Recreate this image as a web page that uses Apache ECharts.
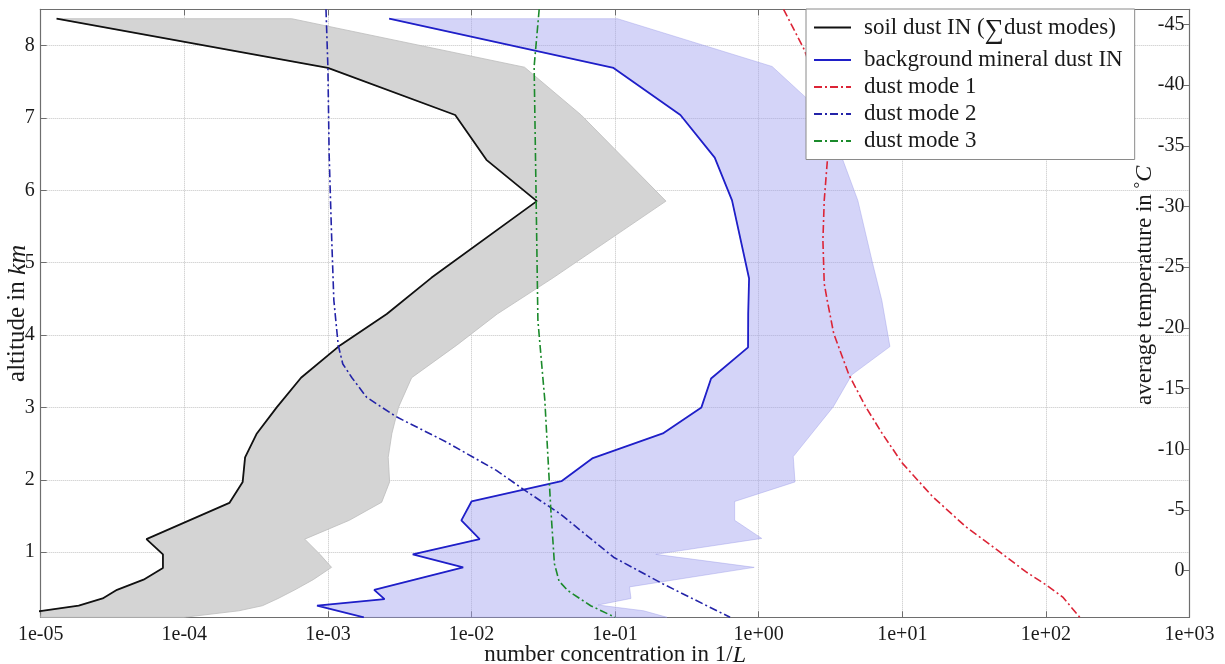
<!DOCTYPE html>
<html>
<head>
<meta charset="utf-8">
<script src="https://cdn.jsdelivr.net/npm/echarts@6/dist/echarts.min.js"></script>
<style>
  html, body { margin: 0; padding: 0; background: #fff; }
  #chart { width: 1225px; height: 664px; }
</style>
</head>
<body>
<div id="chart"></div>
<script>
// Vertical profiles of ice nuclei number concentration (1/L) versus altitude (km)

// soil dust IN (sum of dust modes)
const soilAlt = [8.37, 7.69, 7.04, 6.42, 5.85, 4.79, 4.29, 3.86, 3.41, 3.00, 2.64, 2.31, 1.97, 1.68, 1.18, 0.97, 0.78, 0.62, 0.48, 0.36, 0.26, 0.19, 0.10];
const soilIN  = [1.29e-5, 1.0e-3, 7.7e-3, 1.27e-2, 2.85e-2, 5.25e-3, 2.57e-3, 1.22e-3, 6.5e-4, 4.4e-4, 3.2e-4, 2.65e-4, 2.55e-4, 2.06e-4, 5.45e-5, 7.1e-5, 7.1e-5, 5.2e-5, 3.4e-5, 2.7e-5, 1.84e-5, 1.02e-5, 5.0e-6];

// upper edge of the soil dust range (grey band)
const soilMaxAlt = [8.37, 7.70, 7.04, 5.85, 4.79, 4.29, 3.86, 3.41, 3.00, 2.64, 2.31, 1.97, 1.69, 1.44, 1.18, 0.97, 0.79, 0.62, 0.48, 0.36, 0.26, 0.19, 0.10];
const soilMax    = [5.6e-4, 2.34e-2, 5.8e-2, 0.226, 3.7e-2, 1.51e-2, 7.9e-3, 3.83e-3, 3.1e-3, 2.79e-3, 2.63e-3, 2.69e-3, 2.37e-3, 1.41e-3, 6.9e-4, 8.8e-4, 1.06e-3, 7.9e-4, 5.9e-4, 4.5e-4, 3.5e-4, 2.4e-4, 1.0e-4];

// background mineral dust IN
const bgAlt = [8.37, 7.69, 7.04, 6.45, 5.86, 4.78, 4.29, 3.83, 3.40, 3.00, 2.64, 2.30, 1.98, 1.70, 1.44, 1.18, 0.97, 0.79, 0.48, 0.35, 0.26, 0.10];
const bgIN  = [2.67e-3, 0.0975, 0.285, 0.494, 0.652, 0.857, 0.845, 0.843, 0.466, 0.399, 0.215, 0.070, 0.0423, 0.0100, 8.5e-3, 0.0114, 3.9e-3, 8.75e-3, 2.1e-3, 2.48e-3, 8.4e-4, 1.78e-3];

// upper edge of the background dust range (light blue band)
const bgMaxAlt = [8.37, 7.71, 7.20, 6.42, 5.86, 4.94, 4.48, 3.84, 3.45, 3.01, 2.32, 1.97, 1.70, 1.44, 1.19, 0.97, 0.79, 0.52, 0.36, 0.27, 0.19, 0.10];
const bgMax    = [0.104, 1.24, 2.36, 3.85, 4.9, 6.3, 7.2, 8.2, 4.45, 3.31, 1.74, 1.79, 0.68, 0.68, 1.05, 0.192, 0.93, 0.126, 0.129, 0.076, 0.158, 0.23];

// individual dust modes
const mode1Alt = [8.50, 7.94, 7.40, 6.90, 6.42, 5.86, 5.31, 4.71, 4.48, 4.02, 3.45, 3.01, 2.64, 2.23, 1.77, 1.35, 1.01, 0.73, 0.55, 0.38, 0.10];
const mode1    = [1.49, 2.08, 2.6, 2.88, 3.01, 2.86, 2.80, 2.86, 3.0, 3.33, 4.25, 5.55, 7.24, 10.0, 16.2, 27.7, 47.2, 72.4, 100, 131, 172];

const mode2Alt = [8.50, 7.70, 6.50, 5.40, 4.48, 3.86, 3.60, 3.41, 3.14, 2.87, 2.52, 2.13, 1.87, 1.53, 0.93, 0.56, 0.10];
const mode2    = [9.7e-4, 1.0e-3, 1.02e-3, 1.06e-3, 1.1e-3, 1.18e-3, 1.27e-3, 1.47e-3, 1.86e-3, 3.0e-3, 6.7e-3, 0.0149, 0.0229, 0.0414, 0.0975, 0.216, 0.632];

const mode3Alt = [8.50, 7.71, 5.86, 4.20, 3.10, 1.62, 0.84, 0.60, 0.47, 0.26, 0.10];
const mode3    = [0.0296, 0.0273, 0.0282, 0.029, 0.0324, 0.0356, 0.0378, 0.0407, 0.0468, 0.0676, 0.100];

// axis ranges and ticks
const xRange = [1e-5, 1e3];
const altRange = [0.10, 8.50];
const altTicks = [1, 2, 3, 4, 5, 6, 7, 8];
const tempRange = [-46.24, 3.84];   // temperature at top and bottom of the plot
const tempTicks = [-45, -40, -35, -30, -25, -20, -15, -10, -5, 0];

const seriesNames = [
  'soil dust IN (\u2211dust modes)',
  'background mineral dust IN',
  'dust mode 1',
  'dust mode 2',
  'dust mode 3'
];

const FONT = '"Liberation Serif", "DejaVu Serif", serif';
const AXIS_COLOR = '#6e6e6e';
const GRID_COLOR = '#c4c4c4';
const TEXT_COLOR = '#1a1a1a';

function pairs(values, alts) {
  return alts.map((a, i) => [values[i], a]);
}

function expLabel(v) {
  const e = Math.round(Math.log10(v));
  return '1e' + (e < 0 ? '-' : '+') + String(Math.abs(e)).padStart(2, '0');
}

// filled range between a lower profile and an upper profile
function band(lowVals, lowAlts, highVals, highAlts, fill, stroke) {
  return {
    type: 'custom',
    silent: true,
    z: 1,
    data: [[1, 1]],
    renderItem: function (params, api) {
      const pts = [];
      for (let i = 0; i < lowAlts.length; i++) {
        pts.push(api.coord([Math.max(lowVals[i], xRange[0]), lowAlts[i]]));
      }
      for (let i = highAlts.length - 1; i >= 0; i--) {
        pts.push(api.coord([highVals[i], highAlts[i]]));
      }
      return {
        type: 'polygon',
        shape: { points: pts },
        style: { fill: fill, stroke: stroke, lineWidth: 0.8 }
      };
    }
  };
}

function profile(name, values, alts, color, type, width) {
  return {
    type: 'line',
    name: name,
    data: pairs(values, alts),
    symbol: 'none',
    showSymbol: false,
    z: 3,
    lineStyle: { color: color, width: width, type: type },
    itemStyle: { color: color },
    emphasis: { disabled: true }
  };
}

const dashDot = [8, 3, 2, 3];

const chart = echarts.init(document.getElementById('chart'), null, { renderer: 'canvas' });

chart.setOption({
  animation: false,
  backgroundColor: '#ffffff',
  textStyle: { fontFamily: FONT },
  grid: {
    left: 40.7, right: 35.5, top: 9.3, bottom: 46.7,
    containLabel: false,
    outerBoundsMode: 'none',
    show: false
  },
  legend: {
    data: seriesNames,
    orient: 'vertical',
    left: 806,
    top: 9,
    padding: [7, 12, 7, 7],
    itemGap: 4,
    itemWidth: 37,
    itemHeight: 14,
    backgroundColor: '#ffffff',
    borderColor: '#8a8a8a',
    borderWidth: 1,
    borderRadius: 0,
    selectedMode: false,
    itemStyle: { opacity: 0 },
    textStyle: {
      fontFamily: FONT,
      fontSize: 23,
      color: TEXT_COLOR,
      padding: [0, 0, 0, 8],
      rich: {
        t: { fontFamily: FONT, fontSize: 23, color: TEXT_COLOR },
        s: { fontFamily: FONT, fontSize: 27, color: TEXT_COLOR, padding: [7, 0, 0, 0] }
      }
    },
    formatter: function (name) {
      if (name === seriesNames[0]) return '{t|soil dust IN (}{s|\u2211}{t|dust modes)}';
      return name;
    }
  },
  xAxis: [
    {
      type: 'log',
      logBase: 10,
      min: xRange[0],
      max: xRange[1],
      position: 'bottom',
      name: '{r|number concentration in 1/}{i|L}',
      nameLocation: 'middle',
      nameGap: 26,
      nameMoveOverlap: false,
      nameTextStyle: {
        rich: {
          r: { fontFamily: FONT, fontSize: 23, color: TEXT_COLOR },
          i: { fontFamily: FONT, fontSize: 24, fontStyle: 'italic', color: TEXT_COLOR }
        }
      },
      axisLine: { show: true, onZero: false, lineStyle: { color: AXIS_COLOR, width: 1.2 } },
      axisTick: { show: true, inside: true, length: 6, lineStyle: { color: AXIS_COLOR } },
      minorTick: { show: false },
      axisLabel: {
        show: true, fontFamily: FONT, fontSize: 20, color: TEXT_COLOR, margin: 7,
        showMinLabel: true, showMaxLabel: true,
        formatter: expLabel
      },
      splitLine: { show: true, lineStyle: { color: GRID_COLOR, type: 'dotted', width: 1 } }
    },
    {
      type: 'log',
      logBase: 10,
      min: xRange[0],
      max: xRange[1],
      position: 'top',
      axisLine: { show: true, onZero: false, lineStyle: { color: AXIS_COLOR, width: 1.2 } },
      axisTick: { show: true, inside: true, length: 6, lineStyle: { color: AXIS_COLOR } },
      axisLabel: { show: false },
      splitLine: { show: false }
    }
  ],
  yAxis: [
    {
      type: 'value',
      min: altRange[0],
      max: altRange[1],
      position: 'left',
      name: '{r|altitude in }{i|km}',
      nameLocation: 'middle',
      nameGap: 10,
      nameRotate: 90,
      nameMoveOverlap: false,
      nameTextStyle: {
        rich: {
          r: { fontFamily: FONT, fontSize: 25, color: TEXT_COLOR },
          i: { fontFamily: FONT, fontSize: 26, fontStyle: 'italic', color: TEXT_COLOR }
        }
      },
      axisLine: { show: true, onZero: false, lineStyle: { color: AXIS_COLOR, width: 1.2 } },
      axisTick: { show: true, inside: true, length: 6, customValues: altTicks, lineStyle: { color: AXIS_COLOR } },
      axisLabel: {
        show: true, fontFamily: FONT, fontSize: 20, color: TEXT_COLOR, margin: 6,
        customValues: altTicks
      },
      splitLine: { show: true, lineStyle: { color: GRID_COLOR, type: 'dotted', width: 1 } }
    },
    {
      type: 'value',
      min: tempRange[0],
      max: tempRange[1],
      inverse: true,
      position: 'right',
      name: '{r|average temperature in }{d|\u00B0}{i|C}',
      nameLocation: 'middle',
      nameGap: -57,
      nameRotate: 90,
      nameMoveOverlap: false,
      nameTextStyle: {
        padding: [0, 0, 0, 56],
        rich: {
          r: { fontFamily: FONT, fontSize: 23, color: TEXT_COLOR },
          d: { fontFamily: FONT, fontSize: 17, color: TEXT_COLOR, padding: [0, 0, 8, 0] },
          i: { fontFamily: FONT, fontSize: 24, fontStyle: 'italic', color: TEXT_COLOR }
        }
      },
      axisLine: { show: true, onZero: false, lineStyle: { color: AXIS_COLOR, width: 1.2 } },
      axisTick: { show: true, inside: true, length: 6, customValues: tempTicks, lineStyle: { color: AXIS_COLOR } },
      axisLabel: {
        show: true, inside: true, fontFamily: FONT, fontSize: 20, color: TEXT_COLOR, margin: 5,
        customValues: tempTicks
      },
      splitLine: { show: false }
    }
  ],
  series: [
    band(soilIN, soilAlt, soilMax, soilMaxAlt, '#d4d4d4', '#bdbdbd'),
    band(bgIN, bgAlt, bgMax, bgMaxAlt, 'rgba(160,160,240,0.45)', 'rgba(150,150,230,0.5)'),
    profile(seriesNames[0], soilIN, soilAlt, '#111111', 'solid', 1.8),
    profile(seriesNames[1], bgIN, bgAlt, '#1f1fc8', 'solid', 1.8),
    profile(seriesNames[2], mode1, mode1Alt, '#dc2436', dashDot, 1.6),
    profile(seriesNames[3], mode2, mode2Alt, '#2323a8', dashDot, 1.6),
    profile(seriesNames[4], mode3, mode3Alt, '#1b8a2b', dashDot, 1.6)
  ]
});
</script>
</body>
</html>
